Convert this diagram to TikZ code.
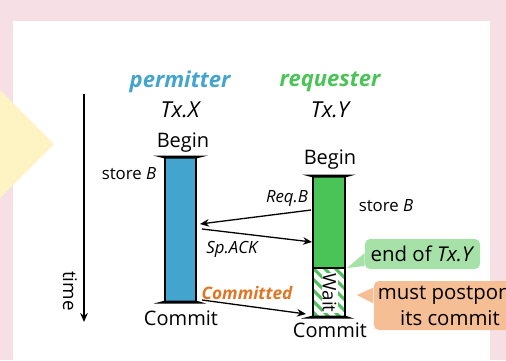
\documentclass[tikz,border=0pt]{standalone}
\usepackage{fontspec}
\setmainfont{Open Sans}
\usetikzlibrary{arrows.meta}
\definecolor{slidepink}{RGB}{246,223,229}
\definecolor{slideyellow}{RGB}{254,244,195}
\definecolor{permblue}{RGB}{67,164,206}
\definecolor{reqgreen}{RGB}{74,196,86}
\definecolor{notegreen}{RGB}{166,226,168}
\definecolor{noteorange}{RGB}{245,190,148}
\definecolor{commitorange}{RGB}{224,118,36}

\begin{document}
\begin{tikzpicture}
[x=0.5pt,y=-0.5pt,%
  every node/.style={inner sep=1pt},%
  bar/.style={draw=black,line width=0.75pt},%
  msg/.style={-{Stealth[length=4.5pt,width=3.8pt]},line width=0.65pt},%
  lbl/.style={font=\fontsize{8.4}{10}\selectfont},%
  edge/.style={font=\fontsize{10}{12}\selectfont},%
  role/.style={font=\fontsize{11}{13}\selectfont\bfseries\itshape},%
  note/.style={rounded corners=2.5pt,inner sep=2pt,align=center,
    font=\fontsize{10.2}{13}\selectfont}]
\useasboundingbox (0,0) rectangle (506,360);
\clip (0,0) rectangle (506,360);
% slide
\fill[slidepink] (0,0) rectangle (506,360);
\fill[white] (13,21) rectangle (490,370);
\fill[slideyellow] (-10,80) -- (54,144) -- (-10,208) -- cycle;

% headers
\node[role,text=permblue] (permitter) at (180,82) {permitter};
\node[role,text=reqgreen] (requester) at (330,82) {requester};
\node[font=\fontsize{11}{13}\selectfont\itshape] (txX) at (180,110) {Tx.X};
\node[font=\fontsize{11}{13}\selectfont\itshape] (txY) at (330,110) {Tx.Y};

% time axis
\coordinate (t0) at (84,94);
\coordinate (t1) at (84,322);
\draw[msg] (t0) -- (t1);
\node[font=\fontsize{9.4}{11}\selectfont,rotate=-90] (time) at (70,291) {time};

% Tx.X
\node[bar,fill=permblue,minimum width=15.5pt,minimum height=72.5pt] (barX) at (180.5,229.5) {};
\fill (153,155.5) -- (208,155.5) -- (196,158.5) -- (165,158.5) -- cycle;
\fill (165,300.5) -- (196,300.5) -- (206,303.5) -- (154,303.5) -- cycle;
\node[edge] (beginX) at (183,143) {Begin};
\node[edge] (commitX) at (181,318) {Commit};
\node[lbl] (storeX) at (129,174) {store \textit{B}};

% Tx.Y
\fill[white] (313,268) rectangle (345,317);
\begin{scope}
  \clip (313,268) rectangle (345,317);
  \foreach \s in {-66,-55,...,44}
    \draw[reqgreen,line width=1.5pt] (313+\s,268) -- ++(60,60);
\end{scope}
\fill[reqgreen] (313,176) rectangle (345,268);
\draw[bar] (313,176) rectangle (345,317);
\draw[line width=0.6pt] (313,268) -- (345,268);
\node[fill=white,inner sep=0.5pt,rotate=-90,font=\fontsize{9.4}{11}\selectfont] (wait) at (329.5,293) {Wait};
\fill (302,174.5) -- (356,174.5) -- (345,177.5) -- (313,177.5) -- cycle;
\fill (313,315.5) -- (345,315.5) -- (354,318.5) -- (301,318.5) -- cycle;
\node[edge] (beginY) at (330,160) {Begin};
\node[edge] (commitY) at (330,330) {Commit};
\node[lbl] (storeY) at (386,206) {store \textit{B}};

% messages
\coordinate (reqFrom) at (311,210);
\coordinate (reqTo) at (200,224);
\coordinate (ackFrom) at (202,229);
\coordinate (ackTo) at (312,242);
\coordinate (cmtFrom) at (202,300);
\coordinate (cmtTo) at (306,314);
\draw[msg] (reqFrom) -- (reqTo);
\draw[msg] (ackFrom) -- (ackTo);
\draw[msg] (cmtFrom) -- (cmtTo);
\node[font=\fontsize{8.4}{10}\selectfont\itshape] (reqB) at (287,199) {Req.B};
\node[font=\fontsize{8.4}{10}\selectfont\itshape] (spAck) at (232,249) {Sp.ACK};
\node[font=\fontsize{8.6}{10}\selectfont\bfseries\itshape,text=commitorange] (committed) at (247,293) {Committed};

% notes
\node[note,fill=notegreen,minimum width=57.5pt,minimum height=15pt] (endY) at (422.5,254) {end of \textit{Tx.Y}};
\coordinate (endTip) at (347,268);
\fill[notegreen] ([yshift=0.5pt]endY.west) -- (endTip) -- ([yshift=-6pt]endY.west) -- cycle;
\node[note,fill=noteorange,minimum width=76pt,minimum height=24.5pt] (postpone) at (450,305.5) {must postpone\\its commit};
\coordinate (postTip) at (357,295);
\fill[noteorange] ([yshift=9pt]postpone.west) -- (postTip) -- ([yshift=1pt]postpone.west) -- cycle;
\end{tikzpicture}
\end{document}
